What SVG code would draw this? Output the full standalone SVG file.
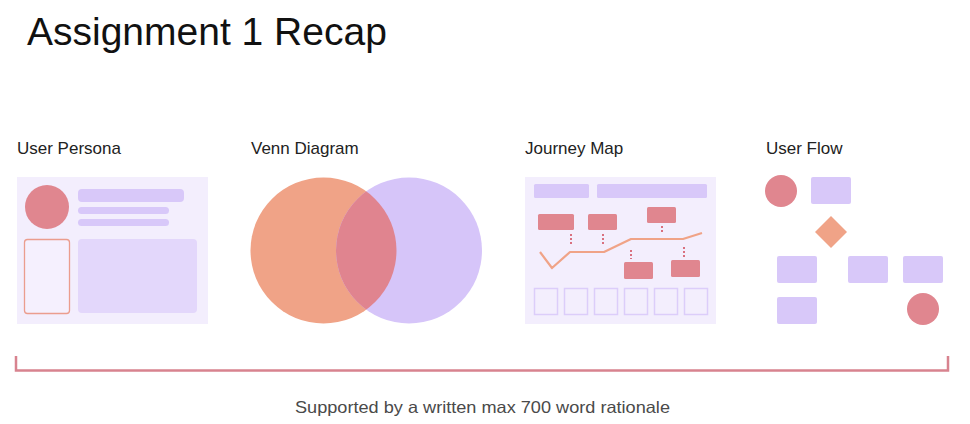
<svg xmlns="http://www.w3.org/2000/svg" width="970" height="424" viewBox="0 0 970 424">
  <style>
    .title { font-family: "Liberation Sans", "Noto Sans", sans-serif; font-size: 39px; fill: #111; }
    .label { font-family: "Liberation Sans", "Noto Sans", sans-serif; font-size: 17px; fill: #222; }
    .note { font-family: "Liberation Sans", "Noto Sans", sans-serif; font-size: 16.5px; fill: #4a4a4a; }
    .panel { fill: #f3eefd; }
    .lav { fill: #d8c8f9; }
    .lavLight { fill: #e3d7fb; }
    .rose { fill: #e0868f; }
    .salmon { fill: #f0a387; }
    .dots { stroke: #d9707f; stroke-width: 2; stroke-dasharray: 2 2; fill: none; }
    .cell { fill: none; stroke: #dccdfa; stroke-width: 1.5; }
  </style>
  <defs>
    <clipPath id="leftDisc">
      <circle cx="323.5" cy="250.5" r="73"/>
    </clipPath>
  </defs>

  <rect width="970" height="424" fill="#ffffff"/>

  <text class="title" x="27" y="45">Assignment 1 Recap</text>

  <!-- User Persona card -->
  <g id="user-persona">
    <text class="label" x="17" y="154">User Persona</text>
    <rect class="panel" x="17" y="177" width="191" height="147"/>
    <circle class="rose" cx="47" cy="207" r="22"/>
    <rect class="lav" x="78" y="189" width="106" height="13" rx="4"/>
    <rect class="lav" x="78" y="207" width="91" height="7" rx="3.5"/>
    <rect class="lav" x="78" y="219" width="91" height="7" rx="3.5"/>
    <rect x="24.5" y="239.5" width="45" height="74" rx="3" fill="#f5f0fe" stroke="#eb9d8e" stroke-width="1.3"/>
    <rect class="lavLight" x="78" y="239" width="119" height="74" rx="4"/>
  </g>

  <!-- Venn Diagram -->
  <g id="venn-diagram">
    <text class="label" x="251" y="154">Venn Diagram</text>
    <circle cx="323.5" cy="250.5" r="73" fill="#f0a387"/>
    <circle cx="409" cy="250.5" r="73" fill="#d6c5f9"/>
    <circle cx="409" cy="250.5" r="73" fill="#e0848f" clip-path="url(#leftDisc)"/>
  </g>

  <!-- Journey Map -->
  <g id="journey-map">
    <text class="label" x="525" y="154">Journey Map</text>
    <rect class="panel" x="525" y="177" width="191" height="147"/>
    <rect class="lav" x="534" y="184" width="55" height="14" rx="1.5"/>
    <rect class="lav" x="597" y="184" width="110" height="14" rx="1.5"/>
    <polyline points="540,252 552,268 570,252 604,252 631,239 683,239 702,233" fill="none" stroke="#f0a387" stroke-width="2.2" stroke-linejoin="round"/>
    <rect class="rose" x="538" y="214" width="36" height="16" rx="1.5"/>
    <rect class="rose" x="588" y="214" width="29" height="16" rx="1.5"/>
    <rect class="rose" x="647" y="207" width="29" height="16" rx="1.5"/>
    <rect class="rose" x="624" y="262" width="29" height="17" rx="1.5"/>
    <rect class="rose" x="671" y="260" width="29" height="17" rx="1.5"/>
    <line class="dots" x1="571" y1="234" x2="571" y2="246"/>
    <line class="dots" x1="603" y1="234" x2="603" y2="245"/>
    <line class="dots" x1="662" y1="226" x2="662" y2="233"/>
    <line class="dots" x1="631" y1="250" x2="631" y2="259"/>
    <line class="dots" x1="684" y1="247" x2="684" y2="257"/>
    <rect class="cell" x="534.5" y="288.5" width="23" height="26"/>
    <rect class="cell" x="564.5" y="288.5" width="23" height="26"/>
    <rect class="cell" x="594.5" y="288.5" width="23" height="26"/>
    <rect class="cell" x="624.5" y="288.5" width="23" height="26"/>
    <rect class="cell" x="654.5" y="288.5" width="23" height="26"/>
    <rect class="cell" x="684.5" y="288.5" width="23" height="26"/>
  </g>

  <!-- User Flow -->
  <g id="user-flow">
    <text class="label" x="766" y="154">User Flow</text>
    <circle class="rose" cx="781" cy="191" r="16"/>
    <rect class="lav" x="811" y="177" width="40" height="27" rx="2"/>
    <polygon class="salmon" points="831,216 847,232 831,248 815,232"/>
    <rect class="lav" x="777" y="256" width="40" height="27" rx="2"/>
    <rect class="lav" x="848" y="256" width="40" height="27" rx="2"/>
    <rect class="lav" x="903" y="256" width="40" height="27" rx="2"/>
    <rect class="lav" x="777" y="297" width="40" height="27" rx="2"/>
    <circle class="rose" cx="923" cy="309" r="16"/>
  </g>

  <!-- Bracket spanning all four artefacts -->
  <g id="rationale-bracket">
    <path d="M16,356 V370.5 H948 V356" fill="none" stroke="#d8838f" stroke-width="2.5"/>
    <text class="note" x="482.5" y="413" text-anchor="middle" textLength="375" lengthAdjust="spacingAndGlyphs">Supported by a written max 700 word rationale</text>
  </g>
</svg>
